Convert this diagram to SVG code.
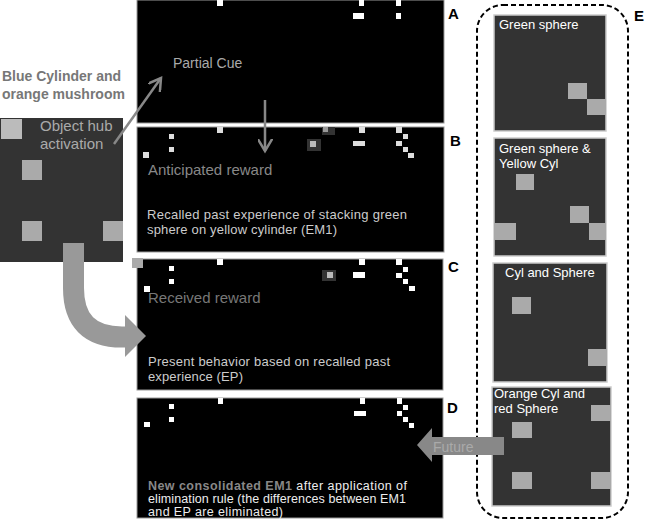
<svg xmlns="http://www.w3.org/2000/svg" width="650" height="520" viewBox="0 0 650 520">
<style>
text{font-family:"Liberation Sans",Arial,sans-serif}
.panel{fill:#000;stroke:#999;stroke-width:1}
.px{fill:#fff}
.pxb{fill:#ddd}
.dim{fill:#333}
.hub{fill:#333}
.sq{fill:#aaa}
.lbl{font-weight:bold;font-size:15px;fill:#000}
.sub{fill:#333;stroke:#ccc;stroke-width:1.5}
.subt{fill:#fff;font-size:13px}
.conn{stroke:#888;stroke-width:2.5;fill:none}
</style>
<defs>
<marker id="ah" markerWidth="6" markerHeight="6" refX="5" refY="3" orient="auto" markerUnits="strokeWidth">
<path d="M0,0 L5,3 L0,6" fill="none" stroke="#888" stroke-width="1"/>
</marker>
</defs>
<rect width="650" height="520" fill="#fff"/>

<g id="hub">
<text x="2" y="81" font-weight="bold" font-size="14" fill="#777">Blue Cylinder and</text>
<text x="2" y="99" font-weight="bold" font-size="14" fill="#777">orange mushroom</text>
<rect class="hub" x="0" y="118" width="123" height="144"/>
<rect x="1" y="119" width="21" height="20" fill="#bbb"/>
<rect class="sq" x="22" y="160" width="20" height="20"/>
<rect class="sq" x="22" y="221" width="20" height="20"/>
<rect class="sq" x="103" y="221" width="20" height="20"/>
<text x="40" y="131" font-size="15" fill="#aaa">Object hub</text>
<text x="40" y="149" font-size="15" fill="#aaa">activation</text>
</g>

<g id="panelA">
<rect class="panel" x="137" y="0" width="307" height="123"/>
<rect class="px" x="217" y="0" width="6" height="6"/>
<rect class="px" x="359" y="0" width="5" height="6"/>
<rect class="px" x="353" y="13" width="11" height="6"/>
<rect class="px" x="396" y="0" width="5" height="6"/>
<rect class="px" x="396" y="13" width="5" height="6"/>
<text x="173" y="68" font-size="14" fill="#aaa">Partial Cue</text>
<text class="lbl" x="448" y="19">A</text>
</g>

<g id="panelB">
<rect class="panel" x="137" y="127" width="307" height="125"/>
<rect class="pxb" x="169" y="134" width="5" height="5"/>
<rect class="pxb" x="169" y="147" width="5" height="5"/>
<rect class="pxb" x="143" y="152" width="6" height="6"/>
<rect class="pxb" x="217" y="127" width="6" height="6"/>
<rect class="dim" x="322" y="127" width="13" height="8"/>
<rect fill="#999" x="323" y="127" width="5" height="5"/>
<rect class="dim" x="307" y="139" width="14" height="12"/>
<rect fill="#bbb" x="310" y="141" width="6" height="6"/>
<rect class="pxb" x="359" y="127" width="6" height="6"/>
<rect class="pxb" x="353" y="141" width="12" height="5"/>
<rect class="pxb" x="396" y="127" width="6" height="6"/>
<rect class="pxb" x="403" y="134" width="5" height="5"/>
<rect class="pxb" x="396" y="141" width="6" height="5"/>
<rect class="pxb" x="403" y="147" width="5" height="5"/>
<rect class="pxb" x="408" y="153" width="6" height="5"/>
<text x="148" y="175" font-size="15" fill="#888">Anticipated reward</text>
<text x="147" y="219" font-size="13" fill="#ccc" textLength="260" lengthAdjust="spacing">Recalled past experience of stacking green</text>
<text x="147" y="234" font-size="13" fill="#ccc" textLength="190" lengthAdjust="spacing">sphere on yellow cylinder (EM1)</text>
<text class="lbl" x="450" y="146">B</text>
</g>

<g id="panelC">
<rect class="panel" x="137" y="259" width="306" height="131" stroke="#aaa"/>
<rect fill="#aaa" x="132" y="258" width="11" height="10"/>
<rect class="px" x="169" y="266" width="5" height="5"/>
<rect class="px" x="169" y="279" width="5" height="5"/>
<rect class="px" x="144" y="286" width="6" height="6"/>
<rect class="px" x="217" y="259" width="6" height="6"/>
<rect class="dim" x="322" y="270" width="14" height="11"/>
<rect fill="#bbb" x="327" y="272" width="6" height="6"/>
<rect class="px" x="359" y="259" width="6" height="6"/>
<rect class="px" x="353" y="272" width="12" height="6"/>
<rect class="px" x="396" y="259" width="6" height="6"/>
<rect class="px" x="403" y="267" width="5" height="5"/>
<rect class="px" x="396" y="273" width="6" height="5"/>
<rect class="px" x="403" y="279" width="5" height="5"/>
<rect class="px" x="409" y="286" width="6" height="5"/>
<text x="148" y="303" font-size="15" fill="#777">Received reward</text>
<text x="148" y="366" font-size="13" fill="#ccc" textLength="242" lengthAdjust="spacing">Present  behavior based on  recalled past</text>
<text x="148" y="381" font-size="13" fill="#ccc" textLength="95" lengthAdjust="spacing">experience (EP)</text>
<text class="lbl" x="448" y="272">C</text>
</g>

<g id="panelD">
<rect class="panel" x="137" y="398" width="306" height="120"/>
<rect class="px" x="169" y="404" width="5" height="5"/>
<rect class="px" x="169" y="417" width="5" height="5"/>
<rect class="px" x="144" y="422" width="6" height="5"/>
<rect class="px" x="218" y="398" width="5" height="6"/>
<rect class="px" x="360" y="398" width="5" height="6"/>
<rect class="px" x="354" y="411" width="12" height="5"/>
<rect class="px" x="397" y="398" width="5" height="6"/>
<rect class="px" x="403" y="405" width="5" height="5"/>
<rect class="px" x="397" y="411" width="5" height="5"/>
<rect class="px" x="403" y="417" width="5" height="5"/>
<rect class="px" x="409" y="423" width="5" height="5"/>
<text x="148" y="490" font-size="12.5" fill="#eee" textLength="259" lengthAdjust="spacing"><tspan fill="#888" font-weight="bold">New consolidated EM1</tspan>  after application of</text>
<text x="148" y="503" font-size="12.5" fill="#eee" textLength="258" lengthAdjust="spacing">elimination rule (the differences between EM1</text>
<text x="148" y="516" font-size="12.5" fill="#eee" textLength="135" lengthAdjust="spacing">and EP are eliminated)</text>
<text class="lbl" x="447" y="413">D</text>
</g>

<g id="panelE">
<rect x="477" y="5" width="151" height="513" rx="26" ry="26" fill="none" stroke="#000" stroke-width="2" stroke-dasharray="5,3"/>
<text class="lbl" x="634" y="21">E</text>
<g id="e1">
<rect class="sub" x="494" y="15" width="112" height="116"/>
<rect class="sq" x="568" y="83" width="19" height="16"/>
<rect class="sq" x="587" y="99" width="19" height="16"/>
<text class="subt" x="499" y="29">Green sphere</text>
</g>
<g id="e2">
<rect class="sub" x="494" y="138" width="112" height="118"/>
<rect class="sq" x="516" y="174" width="18" height="16"/>
<rect class="sq" x="570" y="206" width="19" height="17"/>
<rect class="sq" x="494" y="223" width="22" height="17"/>
<rect class="sq" x="589" y="223" width="17" height="17"/>
<text class="subt" x="499" y="153">Green sphere  &amp;</text>
<text class="subt" x="499" y="168">Yellow Cyl</text>
</g>
<g id="e3">
<rect class="sub" x="493" y="263" width="114" height="119"/>
<rect class="sq" x="512" y="297" width="19" height="17"/>
<rect class="sq" x="588" y="349" width="19" height="17"/>
<text class="subt" x="505" y="277">Cyl and Sphere</text>
</g>
<g id="e4">
<rect class="sub" x="492" y="387" width="119" height="119"/>
<rect class="sq" x="512" y="422" width="20" height="16"/>
<rect class="sq" x="591" y="405" width="20" height="16"/>
<rect class="sq" x="512" y="472" width="20" height="17"/>
<rect class="sq" x="591" y="472" width="20" height="17"/>
<text class="subt" x="494" y="398">Orange Cyl and</text>
<text class="subt" x="494" y="413">red Sphere</text>
</g>
</g>

<g id="connectors">
<line class="conn" x1="114" y1="144" x2="161" y2="78" marker-end="url(#ah)"/>
<line class="conn" x1="265" y1="100" x2="265" y2="151" marker-end="url(#ah)"/>
<path d="M73.5,243 V288 Q73.5,337 122,337 H127" fill="none" stroke="#999" stroke-width="21"/>
<polygon points="125,315 146,336 125,357" fill="#999"/>
<polygon points="417,445 432,428 432,437 504,437 504,455 432,455 432,462" fill="#888"/>
<text x="433" y="452" font-size="14" fill="#aaa">Future</text>
</g>
</svg>
